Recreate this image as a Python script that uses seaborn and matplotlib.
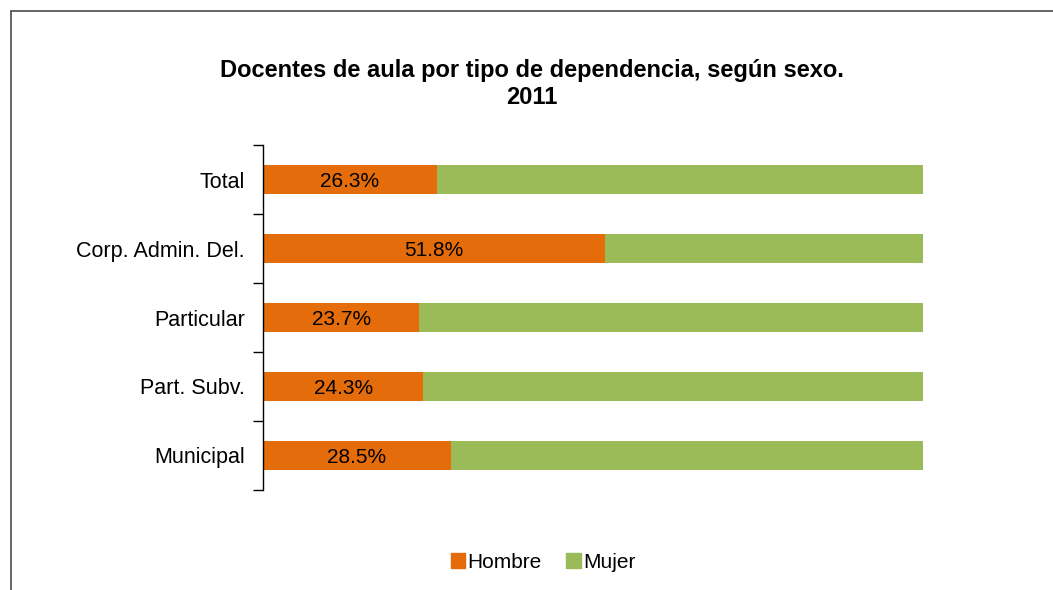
import matplotlib
matplotlib.use("Agg")
import matplotlib.pyplot as plt
import seaborn as sns
import pandas as pd
from matplotlib.lines import Line2D
from matplotlib.patches import Patch

# data
categories = ["Total", "Corp. Admin. Del.", "Particular", "Part. Subv.", "Municipal"]
hombre = [26.3, 51.8, 23.7, 24.3, 28.5]
mujer = [100 - h for h in hombre]

df = pd.DataFrame({"cat": categories, "Hombre": hombre, "Mujer": mujer})
df["total"] = df["Hombre"] + df["Mujer"]

sns.set_style("white")
plt.rcParams["font.family"] = ["Liberation Sans", "DejaVu Sans"]
plt.rcParams["text.color"] = "black"
plt.rcParams["ytick.color"] = "black"

c_h = "#E46C0A"
c_m = "#9BBB59"

fig = plt.figure(figsize=(10.53, 5.9), dpi=100)
ax = fig.add_axes([263 / 1053, 1 - 490 / 590, 660 / 1053, 345 / 590])

sns.barplot(data=df, y="cat", x="total", color=c_m, orient="h", width=0.43,
            ax=ax, saturation=1, linewidth=0)
sns.barplot(data=df, y="cat", x="Hombre", color=c_h, orient="h", width=0.43,
            ax=ax, saturation=1, linewidth=0)

for i, h in enumerate(hombre):
    ax.text(h / 2, i, f"{h:.1f}%", ha="center", va="center_baseline",
            fontsize=15, color="black")

ax.set_xlim(0, 100)
ax.set_ylim(4.5, -0.5)
ax.set_xlabel("")
ax.set_ylabel("")
ax.set_xticks([])
ax.set_yticks(range(len(categories)))
ax.set_yticklabels(categories, fontsize=15.5, color="black")
ax.set_yticks([i - 0.5 for i in range(len(categories) + 1)], minor=True)
ax.tick_params(axis="y", which="major", length=0, pad=13)
ax.tick_params(axis="y", which="minor", length=7, width=1, color="black",
               direction="out", left=True)
for s in ["top", "right", "bottom"]:
    ax.spines[s].set_visible(False)
ax.spines["left"].set_color("black")
ax.spines["left"].set_linewidth(1)

fig.text(532 / 1053, 1 - 84 / 590,
         "Docentes de aula por tipo de dependencia, según sexo.\n2011",
         ha="center", va="center", fontsize=17, fontweight="bold",
         linespacing=1.2, color="black")

handles = [Patch(color=c_h, label="Hombre"), Patch(color=c_m, label="Mujer")]
fig.legend(handles=handles, loc="center", bbox_to_anchor=(543 / 1053, 1 - 562 / 590),
           ncol=2, frameon=False, fontsize=15, handlelength=0.7,
           handleheight=0.7, handletextpad=0.1, columnspacing=1.2,
           labelcolor="black")

# outer chart border (cropped at right and bottom)
fig.add_artist(Line2D([11 / 1053, 11 / 1053], [0, 1 - 11 / 590], color="#595959",
                      linewidth=1.3, transform=fig.transFigure))
fig.add_artist(Line2D([11 / 1053, 1], [1 - 11 / 590, 1 - 11 / 590], color="#595959",
                      linewidth=1.3, transform=fig.transFigure))

fig.savefig("out.png", dpi=100)
